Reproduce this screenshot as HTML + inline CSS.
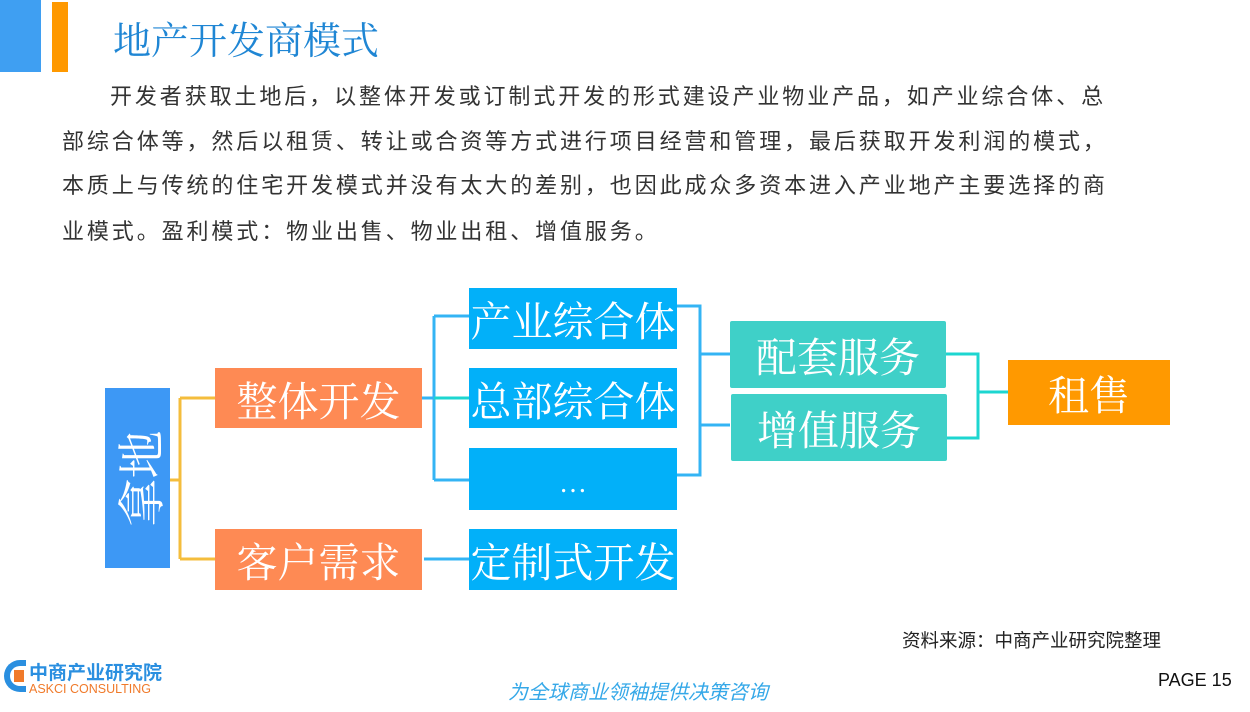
<!DOCTYPE html>
<html><head><meta charset="utf-8"><style>
body{margin:0;width:1250px;height:712px;background:#fff;position:relative;overflow:hidden;font-family:"Liberation Sans","Noto Sans CJK SC",sans-serif}
.a{position:absolute}
.b{position:absolute;display:flex;align-items:center;justify-content:center;color:#fff;font-family:"Liberation Serif","Noto Serif CJK SC",serif;font-size:41px}
.p{position:absolute;left:62px;font-size:22px;color:#333;white-space:nowrap;letter-spacing:2.9px}
</style></head><body>
<div class="a" style="left:0;top:0;width:41px;height:72px;background:#3f9ff2"></div>
<div class="a" style="left:52px;top:2px;width:16px;height:70px;background:#ff9900"></div>
<div class="a" style="left:113px;top:10px;font-size:38px;color:#1f86d4;font-family:'Liberation Serif','Noto Serif CJK SC',serif">地产开发商模式</div>
<div class="p" style="left:110px;top:79px">开发者获取土地后，以整体开发或订制式开发的形式建设产业物业产品，如产业综合体、总</div>
<div class="p" style="top:124px">部综合体等，然后以租赁、转让或合资等方式进行项目经营和管理，最后获取开发利润的模式，</div>
<div class="p" style="top:168px">本质上与传统的住宅开发模式并没有太大的差别，也因此成众多资本进入产业地产主要选择的商</div>
<div class="p" style="top:214px">业模式。盈利模式：物业出售、物业出租、增值服务。</div>

<svg class="a" style="left:0;top:0" width="1250" height="712">
<g fill="none" stroke-width="3">
<path d="M170 480H180M180 398V559M180 398H215M180 559H215" stroke="#f4bd3c"/>
<path d="M422 398H434M434 316V480M434 316H469M434 480H469" stroke="#34b4f4"/>
<path d="M434 398H469" stroke="#1dd6d0"/>
<path d="M424 559H469" stroke="#34b4f4"/>
<path d="M677 306H700V475H677M700 354H730M700 425H730" stroke="#34b4f4"/>
<path d="M946 354H978V438H946M978 392H1008" stroke="#1dd6d0"/>
</g></svg>

<div class="b" style="left:105px;top:388px;width:65px;height:180px;background:#3d98f5"><span style="display:inline-block;transform:rotate(-90deg);white-space:nowrap;font-size:48px">拿地</span></div>
<div class="b" style="left:215px;top:368px;width:207px;height:60px;background:#fe8a54">整体开发</div>
<div class="b" style="left:215px;top:529px;width:207px;height:61px;background:#fe8a54">客户需求</div>
<div class="b" style="left:469px;top:288px;width:208px;height:61px;background:#02b0f9">产业综合体</div>
<div class="b" style="left:469px;top:368px;width:208px;height:60px;background:#02b0f9">总部综合体</div>
<div class="b" style="left:469px;top:448px;width:208px;height:62px;background:#02b0f9;font-size:28px;padding-top:10px;box-sizing:border-box">…</div>
<div class="b" style="left:469px;top:529px;width:208px;height:61px;background:#02b0f9">定制式开发</div>
<div class="b" style="left:730px;top:321px;width:216px;height:67px;background:#3fd0c8;border-radius:2px">配套服务</div>
<div class="b" style="left:731px;top:394px;width:216px;height:67px;background:#3fd0c8;border-radius:2px">增值服务</div>
<div class="b" style="left:1008px;top:360px;width:162px;height:65px;background:#ff9900">租售</div>

<div class="a" style="left:902px;top:627px;font-size:18.5px;color:#222">资料来源：中商产业研究院整理</div>
<div class="a" style="left:4px;top:660px;width:22px;height:32px;border:6px solid #2a8fe0;border-right:none;border-radius:16px 0 0 16px;box-sizing:border-box"></div>
<div class="a" style="left:14px;top:670px;width:10px;height:12px;background:#f07a2a"></div>
<div class="a" style="left:29px;top:658px;font-size:19px;font-weight:bold;color:#2a8fe0">中商产业研究院</div>
<div class="a" style="left:29px;top:682px;font-size:12.5px;color:#f07a2a">ASKCI CONSULTING</div>
<div class="a" style="left:508px;top:676px;font-size:20px;color:#35a8e8;font-style:italic">为全球商业领袖提供决策咨询</div>
<div class="a" style="left:1158px;top:670px;font-size:18px;color:#111">PAGE 15</div>
</body></html>
